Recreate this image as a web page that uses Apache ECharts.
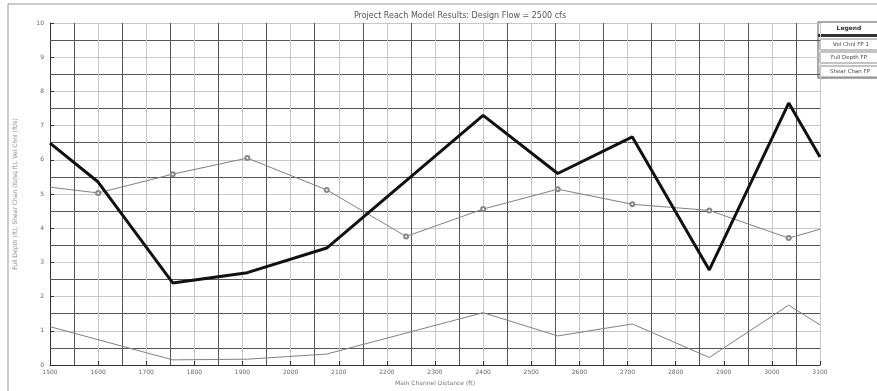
<!DOCTYPE html>
<html><head><meta charset="utf-8">
<script src="https://cdn.jsdelivr.net/npm/echarts@6/dist/echarts.min.js"></script>
<style>html,body{margin:0;padding:0;background:#fff}#c{width:877px;height:391px}</style>
</head><body><div id="c"></div>
<script>
const titleText = 'Project Reach Model Results: Design Flow = 2500 cfs';
const xName = 'Main Channel Distance (ft)';
const yName = 'Full Depth (ft), Shear Chan (lb/sq ft), Vel Chnl (ft/s)';
const legendTitle = 'Legend';
const seriesNames = ['Vel Chnl FP 1', 'Full Depth FP', 'Shear Chan FP'];
const distance = [1500, 1600, 1755, 1910, 2075, 2240, 2400, 2555, 2710, 2870, 3035, 3100];
const velChnl  = [6.49, 5.35, 2.40, 2.70, 3.42, null, 7.30, 5.60, 6.67, 2.78, 7.66, 6.08];
const fullDepth = [5.20, 5.03, 5.58, 6.05, 5.12, 3.76, 4.56, 5.14, 4.70, 4.52, 3.71, 3.97];
const shearChan = [1.12, null, 0.15, 0.17, 0.32, null, 1.53, 0.85, 1.20, 0.22, 1.75, 1.17];

const pairs = arr => distance.map((d, i) => [d, arr[i]]);
const chart = echarts.init(document.getElementById('c'));
const axisCommon = {
  axisLine: {show: true, lineStyle: {color: '#333', width: 1}},
  axisTick: {show: true, inside: true, length: 4, lineStyle: {color: '#333'}},
  minorTick: {show: true, splitNumber: 2, length: 3, lineStyle: {color: '#555'}},
  splitLine: {show: true, lineStyle: {color: '#c8c8c8', width: 1}},
  minorSplitLine: {show: true, lineStyle: {color: '#555', width: 1}}
};
const fdSymbol = (v, p) => (p.dataIndex === 0 || p.dataIndex === distance.length - 1) ? 'none' : 'emptyCircle';
chart.setOption({
  animation: false,
  backgroundColor: '#fff',
  title: {text: titleText, left: 455, top: 7, textAlign: 'center',
    textStyle: {fontSize: 8, fontWeight: 'normal', color: '#555', fontFamily: 'DejaVu Sans'}},
  grid: {left: 50, right: 57, top: 23, bottom: 26},
  xAxis: Object.assign({type: 'value', min: 1500, max: 3100, interval: 100,
    name: xName, nameLocation: 'middle', nameGap: 15,
    nameTextStyle: {fontSize: 6, color: '#777', fontFamily: 'DejaVu Sans'}}, axisCommon,
    {axisLabel: {fontSize: 6, color: '#666', fontFamily: 'DejaVu Sans', margin: 4, formatter: v => String(v)}}),
  yAxis: Object.assign({type: 'value', min: 0, max: 10, interval: 1,
    name: yName, nameLocation: 'middle', nameGap: 32, nameRotate: 90,
    nameTextStyle: {fontSize: 6, color: '#888', fontFamily: 'DejaVu Sans'}}, axisCommon,
    {axisLabel: {fontSize: 6, color: '#666', fontFamily: 'DejaVu Sans', margin: 6}}),
  series: [
    {name: seriesNames[0], type: 'line', data: pairs(velChnl), connectNulls: true,
      showSymbol: false, lineStyle: {color: '#111', width: 3}, z: 5},
    {name: seriesNames[1], type: 'line', data: pairs(fullDepth), connectNulls: true,
      symbol: fdSymbol, symbolSize: 4, itemStyle: {color: '#888', borderColor: '#888', borderWidth: 1},
      lineStyle: {color: '#808080', width: 1}, z: 4},
    {name: seriesNames[2], type: 'line', data: pairs(shearChan), connectNulls: true,
      showSymbol: false, lineStyle: {color: '#808080', width: 1}, z: 4}
  ],
  graphic: [
    {type: 'rect', shape: {x: 8, y: 4, width: 880, height: 400}, style: {fill: null, stroke: '#999', lineWidth: 1}, silent: true},
    {type: 'rect', shape: {x: 818, y: 22, width: 70, height: 56}, style: {fill: '#fff', stroke: '#555', lineWidth: 1}},
    {type: 'text', x: 849, y: 28, style: {text: legendTitle, fontSize: 6, fontWeight: 'bold', fill: '#333', align: 'center', verticalAlign: 'middle', fontFamily: 'DejaVu Sans'}},
    {type: 'rect', shape: {x: 818, y: 34, width: 70, height: 3}, style: {fill: '#333'}},
    {type: 'rect', shape: {x: 820, y: 39, width: 66, height: 11}, style: {fill: '#fff', stroke: '#888', lineWidth: 1}},
    {type: 'text', x: 851, y: 44.5, style: {text: seriesNames[0], fontSize: 5.5, fill: '#444', align: 'center', verticalAlign: 'middle', fontFamily: 'DejaVu Sans'}},
    {type: 'rect', shape: {x: 820, y: 52, width: 66, height: 11}, style: {fill: '#fff', stroke: '#888', lineWidth: 1}},
    {type: 'text', x: 849, y: 57.5, style: {text: seriesNames[1], fontSize: 5.5, fill: '#444', align: 'center', verticalAlign: 'middle', fontFamily: 'DejaVu Sans'}},
    {type: 'rect', shape: {x: 820, y: 66, width: 66, height: 11}, style: {fill: '#fff', stroke: '#888', lineWidth: 1}},
    {type: 'text', x: 850, y: 71.5, style: {text: seriesNames[2], fontSize: 5.5, fill: '#444', align: 'center', verticalAlign: 'middle', fontFamily: 'DejaVu Sans'}}
  ]
});
</script></body></html>
